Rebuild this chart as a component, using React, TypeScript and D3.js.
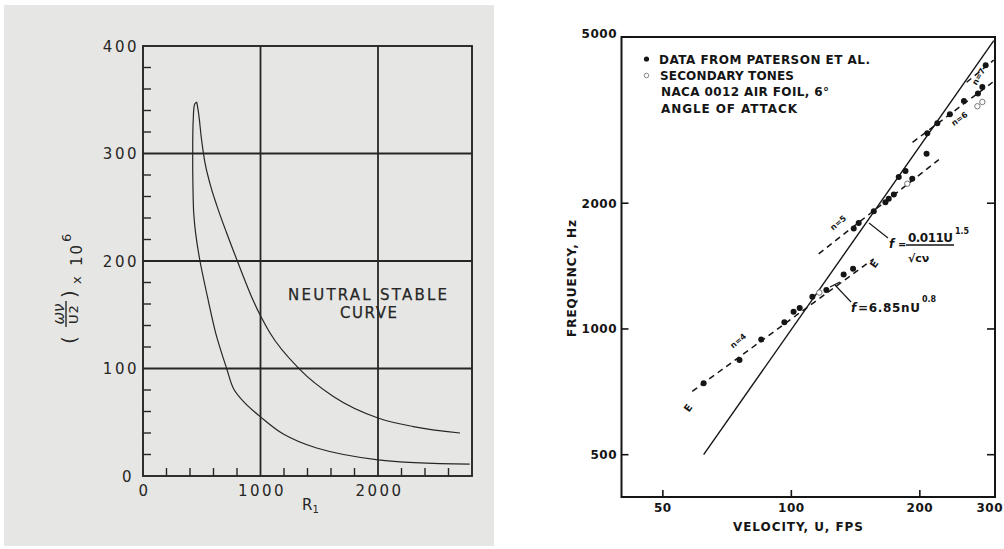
import React from "react";
import * as d3 from "d3";

// ---------- Left panel: neutral stability curve ----------
const reynoldsTicks = [0, 1000, 2000];
const omegaTicks = [0, 100, 200, 300, 400];
const reynoldsMinor = [200, 400, 600, 800, 1200, 1400, 1600, 1800, 2200, 2400, 2600];
const omegaMinor = [20, 40, 60, 80, 120, 140, 160, 180, 220, 240, 260, 280, 320, 340, 360, 380];
const reynoldsGrid = [1000, 2000];
const omegaGrid = [100, 200, 300];

// upper branch, from the nose to the right end
const upperR = [457, 475, 497, 525, 570, 627, 712, 803, 939, 1000, 1081, 1336, 1620, 2000, 2300, 2698];
const upperW = [348, 336, 314, 293, 272, 252, 226, 200, 163, 149, 133, 99, 74, 54, 46, 40];
// lower branch, from the nose down and to the right end
const lowerR = [457, 440, 427, 423, 425, 432, 450, 485, 556, 621, 712, 772, 858, 1000, 1194, 1478, 2000, 2780];
const lowerW = [348, 346, 330, 300, 270, 244, 224, 200, 163, 132, 100, 81, 69, 55, 39, 26, 15, 11];

// ---------- Right panel: frequency vs velocity ----------
const velocityTicks = [50, 100, 200, 300];
const frequencyTicks = [500, 1000, 2000, 5000];
const frequencyInnerTicks = [500, 1000, 2000];

const patersonU = [62.3, 75.6, 85.0, 96.3, 101.2, 104.6, 112.0, 120.8, 132.6, 139.5, 140.0, 143.8, 156.0, 166.1, 169.1, 173.8, 178.5, 185.1, 192.0, 207.4, 208.2, 219.8, 235.2, 253.7, 273.6, 280.2, 285.3];
const patersonF = [741, 843, 944, 1038, 1100, 1122, 1195, 1240, 1350, 1393, 1740, 1794, 1914, 2012, 2050, 2099, 2310, 2388, 2289, 2626, 2940, 3107, 3265, 3515, 3661, 3797, 4280];

const secondaryU = [116.3, 186.9, 272.8, 280.2];
const secondaryF = [1222, 2227, 3413, 3495];

// f = 0.011 U^1.5 / sqrt(c nu)  (solid line endpoints)
const scalingU = [62.3, 298];
const scalingF = [500, 4900];

// f = 6.85 n U^0.8 stage lines (dashed), endpoints
const stageN = ["4", "5", "6", "7"];
const stageU0 = [58.6, 115.9, 192.3, 257.4];
const stageF0 = [709, 1513, 2798, 3896];
const stageU1 = [155.9, 221.6, 296.2, 297.8];
const stageF1 = [1472, 2543, 3896, 4400];

const FONT = "'DejaVu Sans', 'Liberation Sans', sans-serif";

export default function App() {
  // left scales
  const xL = d3.scaleLinear().domain([0, 2800]).range([143, 472]);
  const yL = d3.scaleLinear().domain([0, 400]).range([476, 46]);
  // right scales
  const xR = d3.scaleLog().domain([40, 300]).range([621.5, 995]);
  const yR = d3.scaleLog().domain([396, 5000]).range([497, 37]);

  const upperPath =
    d3
      .line<number>()
      .x((i) => xL(upperR[i]))
      .y((i) => yL(upperW[i]))
      .curve(d3.curveMonotoneX)(upperR.map((_, i) => i)) || "";
  const lowerPath =
    d3
      .line<number>()
      .x((i) => xL(lowerR[i]))
      .y((i) => yL(lowerW[i]))
      .curve(d3.curveCatmullRom.alpha(0.5))(lowerR.map((_, i) => i)) || "";

  const scalingPath =
    d3
      .line<number>()
      .x((i) => xR(scalingU[i]))
      .y((i) => yR(scalingF[i]))(scalingU.map((_, i) => i)) || "";

  const leftInk = "#262626";
  const rightInk = "#151515";

  return (
    <svg
      width={1004}
      height={549}
      style={{ position: "absolute", left: 0, top: 0, background: "#ffffff" }}
      fontFamily={FONT}
    >
      {/* ================= LEFT PANEL ================= */}
      <rect x={4} y={5} width={490} height={541} fill="#e6e6e4" />
      <g stroke={leftInk} fill="none">
        {omegaGrid.map((w) => (
          <line key={"hg" + w} x1={xL(0)} x2={xL(2800)} y1={yL(w)} y2={yL(w)} strokeWidth={1.8} />
        ))}
        {reynoldsGrid.map((r) => (
          <line key={"vg" + r} x1={xL(r)} x2={xL(r)} y1={yL(0)} y2={yL(400)} strokeWidth={1.8} />
        ))}
        {omegaMinor.map((w) => (
          <line key={"ym" + w} x1={xL(0)} x2={xL(0) + 8} y1={yL(w)} y2={yL(w)} strokeWidth={1.4} />
        ))}
        {reynoldsMinor.map((r) => (
          <line key={"xm" + r} x1={xL(r)} x2={xL(r)} y1={yL(0)} y2={yL(0) - 8} strokeWidth={1.4} />
        ))}
        <rect x={xL(0)} y={yL(400)} width={xL(2800) - xL(0)} height={yL(0) - yL(400)} strokeWidth={1.9} />
        <path d={upperPath} strokeWidth={1.2} strokeLinejoin="round" />
        <path d={lowerPath} strokeWidth={1.2} strokeLinejoin="round" />
      </g>
      <g fill={leftInk} fontSize={15} letterSpacing={2.5}>
        {omegaTicks.map((w) => (
          <text key={"yl" + w} x={w === 0 ? 134 : 139} y={yL(w) + 5.5} textAnchor="end">
            {w}
          </text>
        ))}
        {reynoldsTicks.map((r) => (
          <text key={"xl" + r} x={xL(r) + 1.5} y={496} textAnchor="middle">
            {r}
          </text>
        ))}
      </g>
      <text x={302} y={510} fontSize={15} fill={leftInk}>
        R
        <tspan fontSize={10} dy={3}>1</tspan>
      </text>
      <text x={288} y={300} fontSize={15} fill={leftInk} stroke={leftInk} strokeWidth={0.25} textLength={159} lengthAdjust="spacing">
        NEUTRAL STABLE
      </text>
      <text x={340} y={318} fontSize={15} fill={leftInk} stroke={leftInk} strokeWidth={0.25} textLength={57} lengthAdjust="spacing">
        CURVE
      </text>
      {/* y-axis label: ( ων / U2 ) x 10^6 rotated */}
      <g transform="translate(80,287) rotate(-90)" fill={leftInk}>
        <text x={-57} y={-4} fontSize={20}>(</text>
        <text x={-27} y={-16} fontSize={15} textAnchor="middle" fontStyle="italic">ων</text>
        <line x1={-40} x2={-14} y1={-14} y2={-14} stroke={leftInk} strokeWidth={1.4} />
        <text x={-27} y={-2} fontSize={13} textAnchor="middle" letterSpacing={1}>U2</text>
        <text x={-11} y={-4} fontSize={20}>)</text>
        <text x={3} y={1} fontSize={13}>x</text>
        <text x={21} y={2} fontSize={15} letterSpacing={2}>10</text>
        <text x={45} y={-9} fontSize={13}>6</text>
      </g>

      {/* ================= RIGHT PANEL ================= */}
      <g stroke={rightInk} fill="none">
        <rect x={xR(40)} y={yR(5000)} width={xR(300) - xR(40)} height={yR(396) - yR(5000)} strokeWidth={2} />
        {frequencyTicks.map((f) => (
          <line key={"lt" + f} x1={xR(40)} x2={xR(40) + 7} y1={yR(f)} y2={yR(f)} strokeWidth={1.6} />
        ))}
        {frequencyInnerTicks.map((f) => (
          <line key={"rt" + f} x1={xR(300)} x2={xR(300) - 8} y1={yR(f)} y2={yR(f)} strokeWidth={1.6} />
        ))}
        {velocityTicks.slice(0, 3).map((u) => (
          <line key={"bt" + u} x1={xR(u)} x2={xR(u)} y1={yR(396)} y2={yR(396) - 7} strokeWidth={1.6} />
        ))}
        <path d={scalingPath} strokeWidth={1.4} />
        {stageN.map((n, i) => (
          <line
            key={"st" + n}
            x1={xR(stageU0[i])}
            y1={yR(stageF0[i])}
            x2={xR(stageU1[i])}
            y2={yR(stageF1[i])}
            strokeWidth={1.5}
            strokeDasharray="6,4.5"
          />
        ))}
        {/* leader lines */}
        <line x1={869} y1={223} x2={888} y2={238} strokeWidth={1.1} />
        <line x1={835} y1={285} x2={851} y2={302} strokeWidth={1.1} />
        <line x1={830} y1={287} x2={840} y2={282} strokeWidth={1.3} />
      </g>
      {patersonU.map((u, i) => (
        <circle key={"pd" + i} cx={xR(u)} cy={yR(patersonF[i])} r={3} fill={rightInk} />
      ))}
      {secondaryU.map((u, i) => (
        <circle key={"sd" + i} cx={xR(u)} cy={yR(secondaryF[i])} r={2.7} fill="#fff" stroke="#777" strokeWidth={1} />
      ))}

      {/* stage labels */}
      <g fill={rightInk} fontSize={8} fontWeight="bold">
        <text transform="translate(740,343) rotate(-40)" textAnchor="middle">n=4</text>
        <text transform="translate(840,225) rotate(-40)" textAnchor="middle">n=5</text>
        <text transform="translate(961,121) rotate(-35)" textAnchor="middle">n=6</text>
        <text transform="translate(981,78) rotate(-60)" textAnchor="middle">n=7</text>
        <text transform="translate(691,410) rotate(-55)" textAnchor="middle" fontSize={10}>E</text>
        <text transform="translate(877,266) rotate(-55)" textAnchor="middle" fontSize={10}>E</text>
      </g>

      {/* formula annotations */}
      <g fill={rightInk} fontWeight="bold">
        <text x={889} y={248} fontSize={12} fontStyle="italic">f</text>
        <text x={898} y={248} fontSize={10}>=</text>
        <text x={908} y={242} fontSize={12} textLength={45} lengthAdjust="spacing">0.011U</text>
        <text x={955} y={234} fontSize={8}>1.5</text>
        <line x1={906} x2={954} y1={245} y2={245} stroke={rightInk} strokeWidth={1.4} />
        <text x={908} y={262} fontSize={11}>√cν</text>
        <text x={851} y={312} fontSize={12} fontStyle="italic">f</text>
        <text x={858} y={312} fontSize={12} textLength={62} lengthAdjust="spacing">=6.85nU</text>
        <text x={922} y={302} fontSize={8}>0.8</text>
      </g>

      {/* legend */}
      <circle cx={646.5} cy={59} r={2.6} fill={rightInk} />
      <circle cx={646.5} cy={75.5} r={2.3} fill="#fff" stroke="#888" strokeWidth={1} />
      <g fill={rightInk} fontSize={12} fontWeight="bold">
        <text x={659} y={64} textLength={211} lengthAdjust="spacing">DATA FROM PATERSON ET AL.</text>
        <text x={660} y={80} textLength={134} lengthAdjust="spacing">SECONDARY TONES</text>
        <text x={661} y={96} textLength={168} lengthAdjust="spacing">NACA 0012 AIR FOIL, 6°</text>
        <text x={661} y={113} textLength={136} lengthAdjust="spacing">ANGLE OF ATTACK</text>
      </g>

      {/* tick labels */}
      <g fill={rightInk} fontSize={12} fontWeight="bold">
        {frequencyTicks.map((f) => (
          <text key={"fl" + f} x={617} y={(f === 5000 ? yR(f) - 3.5 : yR(f)) + 4.5} textAnchor="end" letterSpacing={0.5}>
            {f}
          </text>
        ))}
        {velocityTicks.map((u) => (
          <text key={"vl" + u} x={u === 300 ? 1003 : xR(u)} y={512} textAnchor={u === 300 ? "end" : "middle"} letterSpacing={0.5}>
            {u}
          </text>
        ))}
      </g>
      <text x={733} y={531} fontSize={12} fontWeight="bold" fill={rightInk} textLength={130} lengthAdjust="spacing">
        VELOCITY, U, FPS
      </text>
      <text
        transform="translate(576,337) rotate(-90)"
        fontSize={12}
        fontWeight="bold"
        fill={rightInk}
        textLength={117}
        lengthAdjust="spacing"
      >
        FREQUENCY, Hz
      </text>
    </svg>
  );
}
